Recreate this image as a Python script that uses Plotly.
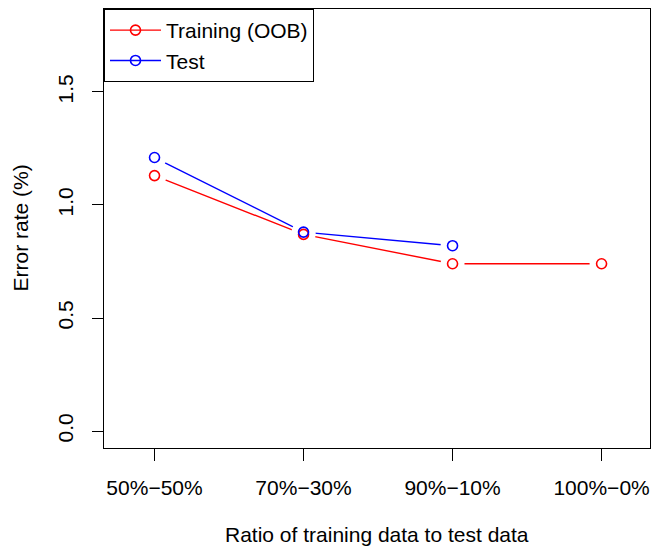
import plotly.graph_objects as go

categories = ["50%\u221250%", "70%\u221230%", "90%\u221210%", "100%\u22120%"]
cat_pos = [0, 1, 2, 3]
train_oob = [1.13, 0.87, 0.74, 0.74]
test_err = [1.21, 0.88, 0.82]
y_ticks = [0.0, 0.5, 1.0, 1.5]
y_tick_labels = ["0.0", "0.5", "1.0", "1.5"]

RED = "#FF0000"
BLUE = "#0000FF"
FONT = "Liberation Sans, Arial, Helvetica, sans-serif"
FS = 21

train_x = cat_pos[:len(train_oob)]
test_x = cat_pos[:len(test_err)]

fig = go.Figure()
# connecting lines
fig.add_trace(go.Scatter(x=train_x, y=train_oob, mode="lines",
                         line=dict(color=RED, width=1.4), showlegend=False, hoverinfo="skip"))
fig.add_trace(go.Scatter(x=test_x, y=test_err, mode="lines",
                         line=dict(color=BLUE, width=1.4), showlegend=False, hoverinfo="skip"))
# gaps around points (type = "b")
fig.add_trace(go.Scatter(x=train_x + test_x, y=train_oob + test_err, mode="markers",
                         marker=dict(symbol="circle", size=24, color="white", line=dict(width=0)),
                         showlegend=False, hoverinfo="skip"))
# open circle points
fig.add_trace(go.Scatter(x=train_x, y=train_oob, mode="markers",
                         marker=dict(symbol="circle-open", size=10, color=RED, line=dict(width=1.6, color=RED)),
                         showlegend=False))
fig.add_trace(go.Scatter(x=test_x, y=test_err, mode="markers",
                         marker=dict(symbol="circle-open", size=10, color=BLUE, line=dict(width=1.6, color=BLUE)),
                         showlegend=False))
# legend entries
fig.add_trace(go.Scatter(x=[None], y=[None], mode="lines+markers", name="Training (OOB)",
                         line=dict(color=RED, width=1.4),
                         marker=dict(symbol="circle-open", size=10, color=RED, line=dict(width=1.6, color=RED))))
fig.add_trace(go.Scatter(x=[None], y=[None], mode="lines+markers", name="Test",
                         line=dict(color=BLUE, width=1.4),
                         marker=dict(symbol="circle-open", size=10, color=BLUE, line=dict(width=1.6, color=BLUE))))

axis_common = dict(showline=True, mirror=True, linecolor="black", linewidth=1,
                   ticks="outside", tickcolor="black", tickwidth=1,
                   showgrid=False, zeroline=False,
                   tickfont=dict(family=FONT, size=FS, color="black"))

fig.update_layout(
    width=655, height=547,
    margin=dict(l=104, r=5, t=9, b=99, autoexpand=False),
    paper_bgcolor="white", plot_bgcolor="white",
    font=dict(family=FONT, size=FS, color="black"),
    xaxis=dict(range=[-0.339, 3.325], tickvals=cat_pos, ticktext=categories,
               ticklen=12, ticklabelstandoff=9, **axis_common),
    yaxis=dict(range=[-0.075, 1.867], tickvals=y_ticks, ticktext=y_tick_labels,
               tickangle=-90, ticklen=11, ticklabelstandoff=11, **axis_common),
    legend=dict(x=0, y=1, xanchor="left", yanchor="top", bordercolor="black", borderwidth=1,
                bgcolor="white", font=dict(family=FONT, size=FS, color="black"),
                tracegroupgap=0, itemwidth=51),
    annotations=[
        dict(text="Ratio of training data to test data", xref="paper", yref="paper",
             x=0.5, y=-86 / 439, xanchor="center", yanchor="middle", showarrow=False,
             font=dict(family=FONT, size=FS, color="black")),
        dict(text="Error rate (%)", xref="paper", yref="paper",
             x=-84 / 546, y=0.5, xanchor="center", yanchor="middle", textangle=-90, showarrow=False,
             font=dict(family=FONT, size=FS, color="black")),
    ],
)

fig.write_html("out.html")
